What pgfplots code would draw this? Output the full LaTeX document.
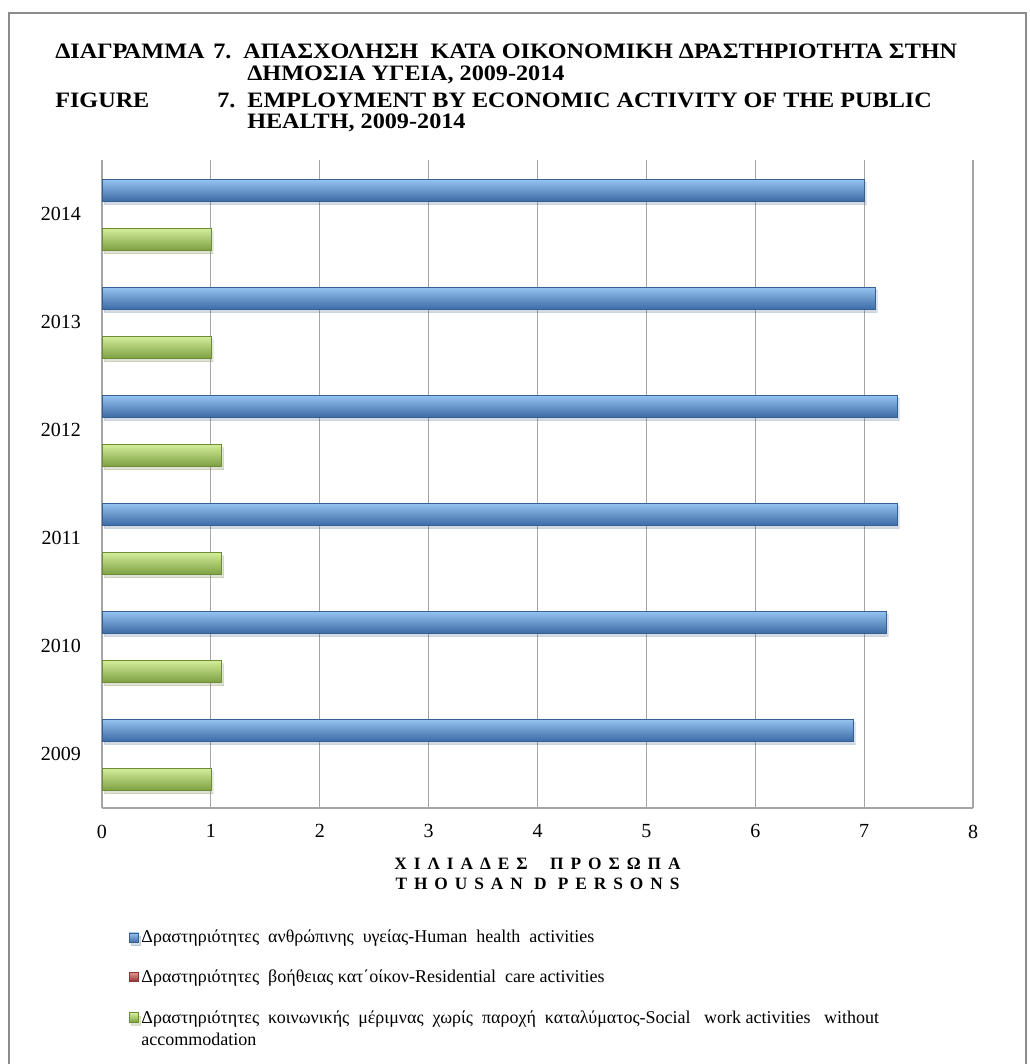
\documentclass[border=0pt]{standalone}
\usepackage{fontspec}
\setmainfont{Liberation Serif}
\usepackage{pgfplots}
\pgfplotsset{compat=1.18}
\usetikzlibrary{shadows}

\definecolor{bluebar}{RGB}{82,142,208}
\definecolor{bluetop}{RGB}{150,196,242}
\definecolor{bluebot}{RGB}{62,108,165}
\definecolor{bluedark}{RGB}{55,95,145}
\definecolor{greenbar}{RGB}{158,200,92}
\definecolor{greentop}{RGB}{212,238,155}
\definecolor{greenbot}{RGB}{125,160,65}
\definecolor{greendark}{RGB}{110,140,55}
\definecolor{redbar}{RGB}{192,80,77}
\definecolor{redtop}{RGB}{230,150,145}
\definecolor{reddark}{RGB}{140,50,48}
\definecolor{gridgray}{RGB}{165,165,165}
\definecolor{framegray}{RGB}{140,140,140}

\pgfplotsset{
  bluebars/.style={bar shift=18pt, draw=bluedark, top color=bluetop, middle color=bluebar, bottom color=bluebot,
    drop shadow={shadow xshift=1.5pt, shadow yshift=-2.5pt, opacity=0.15}},
  greenbars/.style={bar shift=-19pt, draw=greendark, top color=greentop, middle color=greenbar, bottom color=greenbot,
    drop shadow={shadow xshift=1.5pt, shadow yshift=-2.5pt, opacity=0.15}},
}

\begin{document}
\begin{tikzpicture}
% pixel grid of the reference: x right, y down, 1px = 0.75pt
\begin{scope}[x=0.75pt,y=-0.75pt]
\path[use as bounding box] (0,0) rectangle (1029,1064);
\draw[framegray, line width=1.5pt] (9,1070) -- (9,13) -- (1026,13) -- (1026,1070);
\begin{scope}[every node/.style={anchor=base west, inner sep=0pt,
    font=\fontsize{16.5}{19}\selectfont\bfseries\addfontfeature{FakeStretch=1.1}}]
\node at (55,58) {ΔΙΑΓΡΑΜΜΑ};
\node at (213,58) {7.\ \ ΑΠΑΣΧΟΛΗΣΗ\ \ ΚΑΤΑ ΟΙΚΟΝΟΜΙΚΗ ΔΡΑΣΤΗΡΙΟΤΗΤΑ ΣΤΗΝ};
\node at (247,80) {ΔΗΜΟΣΙΑ ΥΓΕΙΑ, 2009-2014};
\node at (55,107) {FIGURE};
\node at (217,107) {7.\ \ EMPLOYMENT BY ECONOMIC ACTIVITY OF THE PUBLIC};
\node at (247,128) {HEALTH, 2009-2014};
\end{scope}
\end{scope}

\begin{axis}[
  at={(76.5pt,-606pt)}, anchor=south west,
  width=653.25pt, height=486pt, scale only axis,
  xbar, xmin=0, xmax=8, ymin=-0.5, ymax=5.5,
  xtick={0,1,2,3,4,5,6,7,8},
  ytick={0,1,2,3,4,5},
  yticklabels={2009,2010,2011,2012,2013,2014},
  xmajorgrids, major grid style={gridgray, line width=0.8pt},
  axis x line*=bottom, axis y line*=left,
  axis line style={gridgray, line width=1pt, -},
  tick style={draw=none},
  bar width=16.5pt,
  tick label style={font=\fontsize{15}{18}\selectfont},
  xticklabel style={yshift=-9pt},
  yticklabel style={xshift=-8pt},
  /pgf/number format/assume math mode=true,
  xlabel={\addfontfeature{LetterSpace=40}\bfseries ΧΙΛΙΑΔΕΣ\ \ ΠΡΟΣΩΠΑ\\\addfontfeature{LetterSpace=40}\bfseries THOUSAN D PERSONS},
  xlabel style={align=center, font=\fontsize{13}{15}\selectfont, yshift=-8pt},
  legend style={at={(0.026,-0.18)}, anchor=north west, draw=none,
    font=\fontsize{13.5}{16}\selectfont, row sep=14.5pt,
    /tikz/every even column/.append style={column sep=2pt}},
  legend cell align=left,
  legend image code/.code={\draw[#1] (0pt,-3.5pt) rectangle (7pt,3.5pt);},
]
% Human health activities
\addplot[bluebars] coordinates {(6.9,0)};
\addlegendentry{Δραστηριότητες\ \ ανθρώπινης\ \ υγείας-Human\ \ health\ \ activities}
% Residential care activities: 0 in every year
\addlegendimage{draw=reddark, top color=redtop, middle color=redbar, bottom color=reddark}
\addlegendentry{Δραστηριότητες\ \ βοήθειας κατ΄οίκον-Residential\ \ care activities}
% Social work activities without accommodation
\addplot[greenbars] coordinates {(1.0,0)};
\addlegendentry{\begin{tabular}[t]{@{}l@{}}Δραστηριότητες\ \ κοινωνικής\ \ μέριμνας\ \ χωρίς\ \ παροχή\ \ καταλύματος-Social\ \ \ work activities\ \ \ without\\accommodation\end{tabular}}

\addplot[bluebars, forget plot] coordinates {(7.2,1)};
\addplot[bluebars, forget plot] coordinates {(7.3,2)};
\addplot[bluebars, forget plot] coordinates {(7.3,3)};
\addplot[bluebars, forget plot] coordinates {(7.1,4)};
\addplot[bluebars, forget plot] coordinates {(7.0,5)};
\addplot[greenbars, forget plot] coordinates {(1.1,1)};
\addplot[greenbars, forget plot] coordinates {(1.1,2)};
\addplot[greenbars, forget plot] coordinates {(1.1,3)};
\addplot[greenbars, forget plot] coordinates {(1.0,4)};
\addplot[greenbars, forget plot] coordinates {(1.0,5)};
\end{axis}
\end{tikzpicture}
\end{document}
